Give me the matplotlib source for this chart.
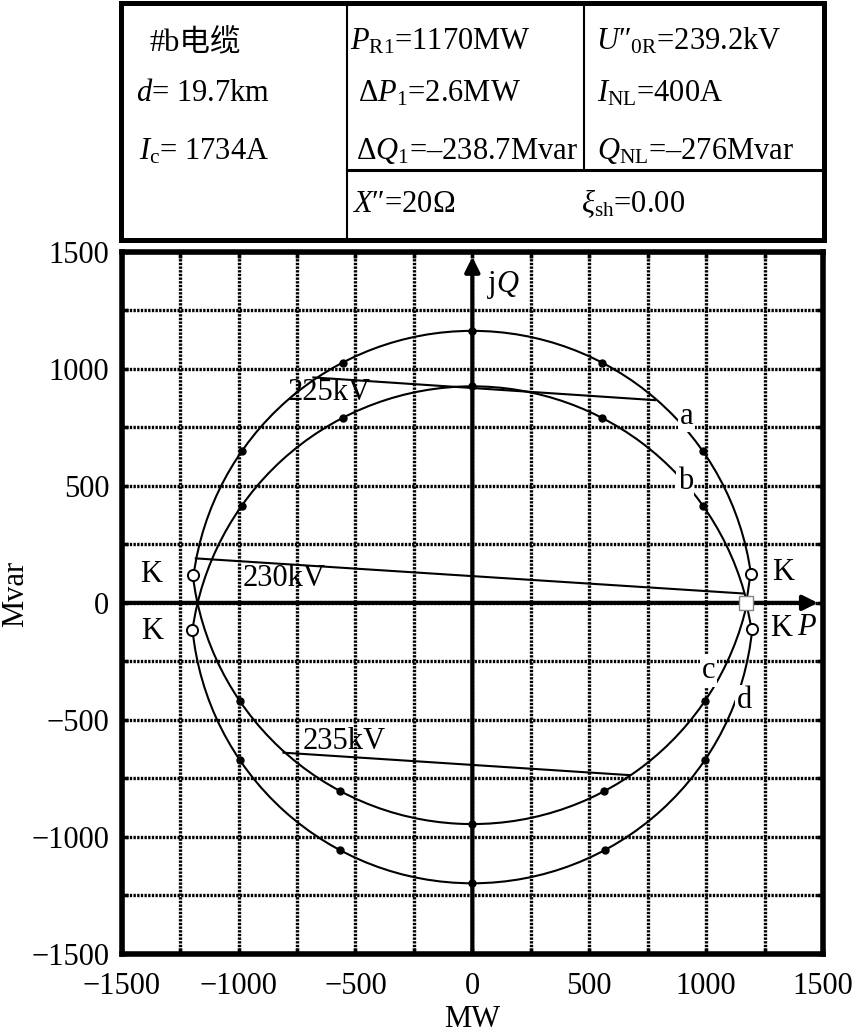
import numpy as np
import matplotlib
matplotlib.use('Agg')
import matplotlib.pyplot as plt
from matplotlib.patches import Arc, Rectangle

# ---- data ----
curve_names = ['a', 'b', 'c', 'd']
centre_Q = [-41, -284, 259, 5]          # circle centres lie on the Q axis
radius = [1203, 1209, 1204, 1203]

# K points: upper-left, upper-right, lower-left, lower-right
K_P = [-1196, 1190, -1198, 1195]
K_Q = [119, 124, -116, -113]
# operating point (square)
op_P, op_Q = 1172, 0

# dots on each curve
dots_P = {'a': [-987, -555, 0, 555, 987],
          'b': [-987, -555, 0, 555, 987],
          'c': [-995, -565, 0, 565, 995],
          'd': [-996, -566, 0, 566, 996]}
dots_Q = {'a': [647, 1026, 1162, 1026, 647],
          'b': [414, 790, 925, 790, 414],
          'c': [-419, -804, -945, -804, -419],
          'd': [-670, -1056, -1198, -1056, -670]}

# constant-voltage chords
kv_labels = ['225kV', '230kV', '235kV']
chord_P0 = [-680, -1183, -808]
chord_Q0 = [963, 190, -640]
chord_P1 = [781, 1160, 674]
chord_Q1 = [866, 40, -736]
kv_label_P = [-613, -805, -547]
kv_label_Q = [898, 106, -593]

curve_label_P = [917, 911, 1011, 1163]
curve_label_Q = [797, 520, -291, -419]

K_label_P = [-1375, 1330, -1368, 1323]
K_label_Q = [123, 129, -123, -109]

ticks = [-1500, -1000, -500, 0, 500, 1000, 1500]
minor_ticks = [-1250, -750, -250, 250, 750, 1250]

plt.rcParams['font.family'] = ['Liberation Serif', 'Noto Sans CJK SC']
plt.rcParams['mathtext.fontset'] = 'custom'
plt.rcParams['mathtext.rm'] = 'Liberation Serif'
plt.rcParams['mathtext.it'] = 'Liberation Serif:italic'
plt.rcParams['mathtext.bf'] = 'Liberation Serif:bold'
FS = 22

fig = plt.figure(figsize=(8.57, 10.33), dpi=100)
ax = fig.add_axes([0.142, 0.0765, 0.8183, 0.6798])
ax.set_xlim(-1500, 1500)
ax.set_ylim(-1500, 1500)

ax.set_xticks(ticks)
ax.set_yticks(ticks)
ax.set_xticks(minor_ticks, minor=True)
ax.set_yticks(minor_ticks, minor=True)
ax.tick_params(which='both', direction='in', length=4, width=2.5,
               top=True, right=True, labelsize=FS, pad=9)
ax.tick_params(axis='x', pad=13)
ax.grid(which='both', color='black', lw=2.4, linestyle=(0, (0.7, 0.4)), zorder=0)
for s in ax.spines.values():
    s.set_linewidth(4)

# P and jQ axes
ax.annotate('', xy=(1490, 0), xytext=(-1500, 0),
            arrowprops=dict(arrowstyle='-|>', lw=3, color='black', mutation_scale=22),
            zorder=3)
ax.annotate('', xy=(0, 1490), xytext=(0, -1500),
            arrowprops=dict(arrowstyle='-|>', lw=3, color='black', mutation_scale=22),
            zorder=3)


def ang(p, q, cq):
    return np.degrees(np.arctan2(q - cq, p)) % 360


K_pts = list(zip(K_P, K_Q))
arc_ends = {'a': (K_pts[1], K_pts[0]),
            'b': ((op_P, op_Q), K_pts[2]),
            'c': (K_pts[0], (op_P, op_Q)),
            'd': (K_pts[2], K_pts[3])}

for name, cq, r in zip(curve_names, centre_Q, radius):
    (p1, q1), (p2, q2) = arc_ends[name]
    ax.add_patch(Arc((0, cq), 2 * r, 2 * r, theta1=ang(p1, q1, cq),
                     theta2=ang(p2, q2, cq), lw=1.5, color='black', zorder=2))
    ax.plot(dots_P[name], dots_Q[name], 'o', ms=5, color='black', zorder=4)

# short links from right K points to operating point
ax.plot([K_P[1], op_P, K_P[3]], [K_Q[1], op_Q, K_Q[3]], color='black', lw=1.5, zorder=2)

for p0, q0, p1, q1 in zip(chord_P0, chord_Q0, chord_P1, chord_Q1):
    ax.plot([p0, p1], [q0, q1], color='black', lw=1.5, zorder=2)

ax.plot(K_P, K_Q, 'o', ms=8, mfc='white', mec='black', mew=1.4, zorder=5)
ax.plot([op_P], [op_Q], 's', ms=10, mfc='white', mec='0.5', mew=1, zorder=5)

for t, p, q in zip(kv_labels, kv_label_P, kv_label_Q):
    ax.text(p, q, t, fontsize=FS, ha='center', va='center', zorder=6)
for t, p, q in zip(curve_names, curve_label_P, curve_label_Q):
    ax.text(p, q, t, fontsize=FS, ha='center', va='center', zorder=6,
            bbox=dict(facecolor='white', edgecolor='none', pad=1))
for p, q in zip(K_label_P, K_label_Q):
    ax.text(p, q, 'K', fontsize=FS, ha='center', va='center', zorder=6)
ax.text(1430, -105, '$P$', fontsize=FS, ha='center', va='center', zorder=6)
ax.text(133, 1357, 'j$Q$', fontsize=FS, ha='center', va='center', zorder=6)

ax.set_xlabel('MW', fontsize=FS)
ax.set_ylabel('Mvar', fontsize=FS)
ax.xaxis.set_label_coords(0.5, -0.072)
ax.yaxis.set_label_coords(-0.130, 0.513)

# ---- parameter table above the chart ----
tab = fig.add_axes([0, 0, 1, 1], facecolor='none')
tab.set_xlim(0, 857)
tab.set_ylim(1033, 0)
tab.axis('off')
tab.add_patch(Rectangle((121.5, 2.5), 702.5, 237.5, fill=False, lw=3.6,
                        edgecolor='black', clip_on=False))
tab.plot([347, 347], [2, 240], color='black', lw=1.5)
tab.plot([584, 584], [2, 170], color='black', lw=1.5)
tab.plot([347, 824], [170, 170], color='black', lw=2.2)

cells = [
    (150, 50, '#b电缆'),
    (136, 101, '$d$= 19.7km'),
    (139, 159, '$I_{\\mathrm{c}}$= 1734A'),
    (350, 50, '$P_{\\mathrm{R1}}$=1170MW'),
    (358, 101, 'Δ$P_1$=2.6MW'),
    (356, 159, 'Δ$Q_1$=–238.7Mvar'),
    (352, 212, '$X$″=20Ω'),
    (596, 50, '$U$″$_{\\mathrm{0R}}$=239.2kV'),
    (597, 101, '$I_{\\mathrm{NL}}$=400A'),
    (597, 159, '$Q_{\\mathrm{NL}}$=–276Mvar'),
    (581, 212, '$\\xi_{\\mathrm{sh}}$=0.00'),
]
for x, y, t in cells:
    tab.text(x, y, t, fontsize=FS, ha='left', va='baseline')

fig.savefig('out.png', dpi=100)
